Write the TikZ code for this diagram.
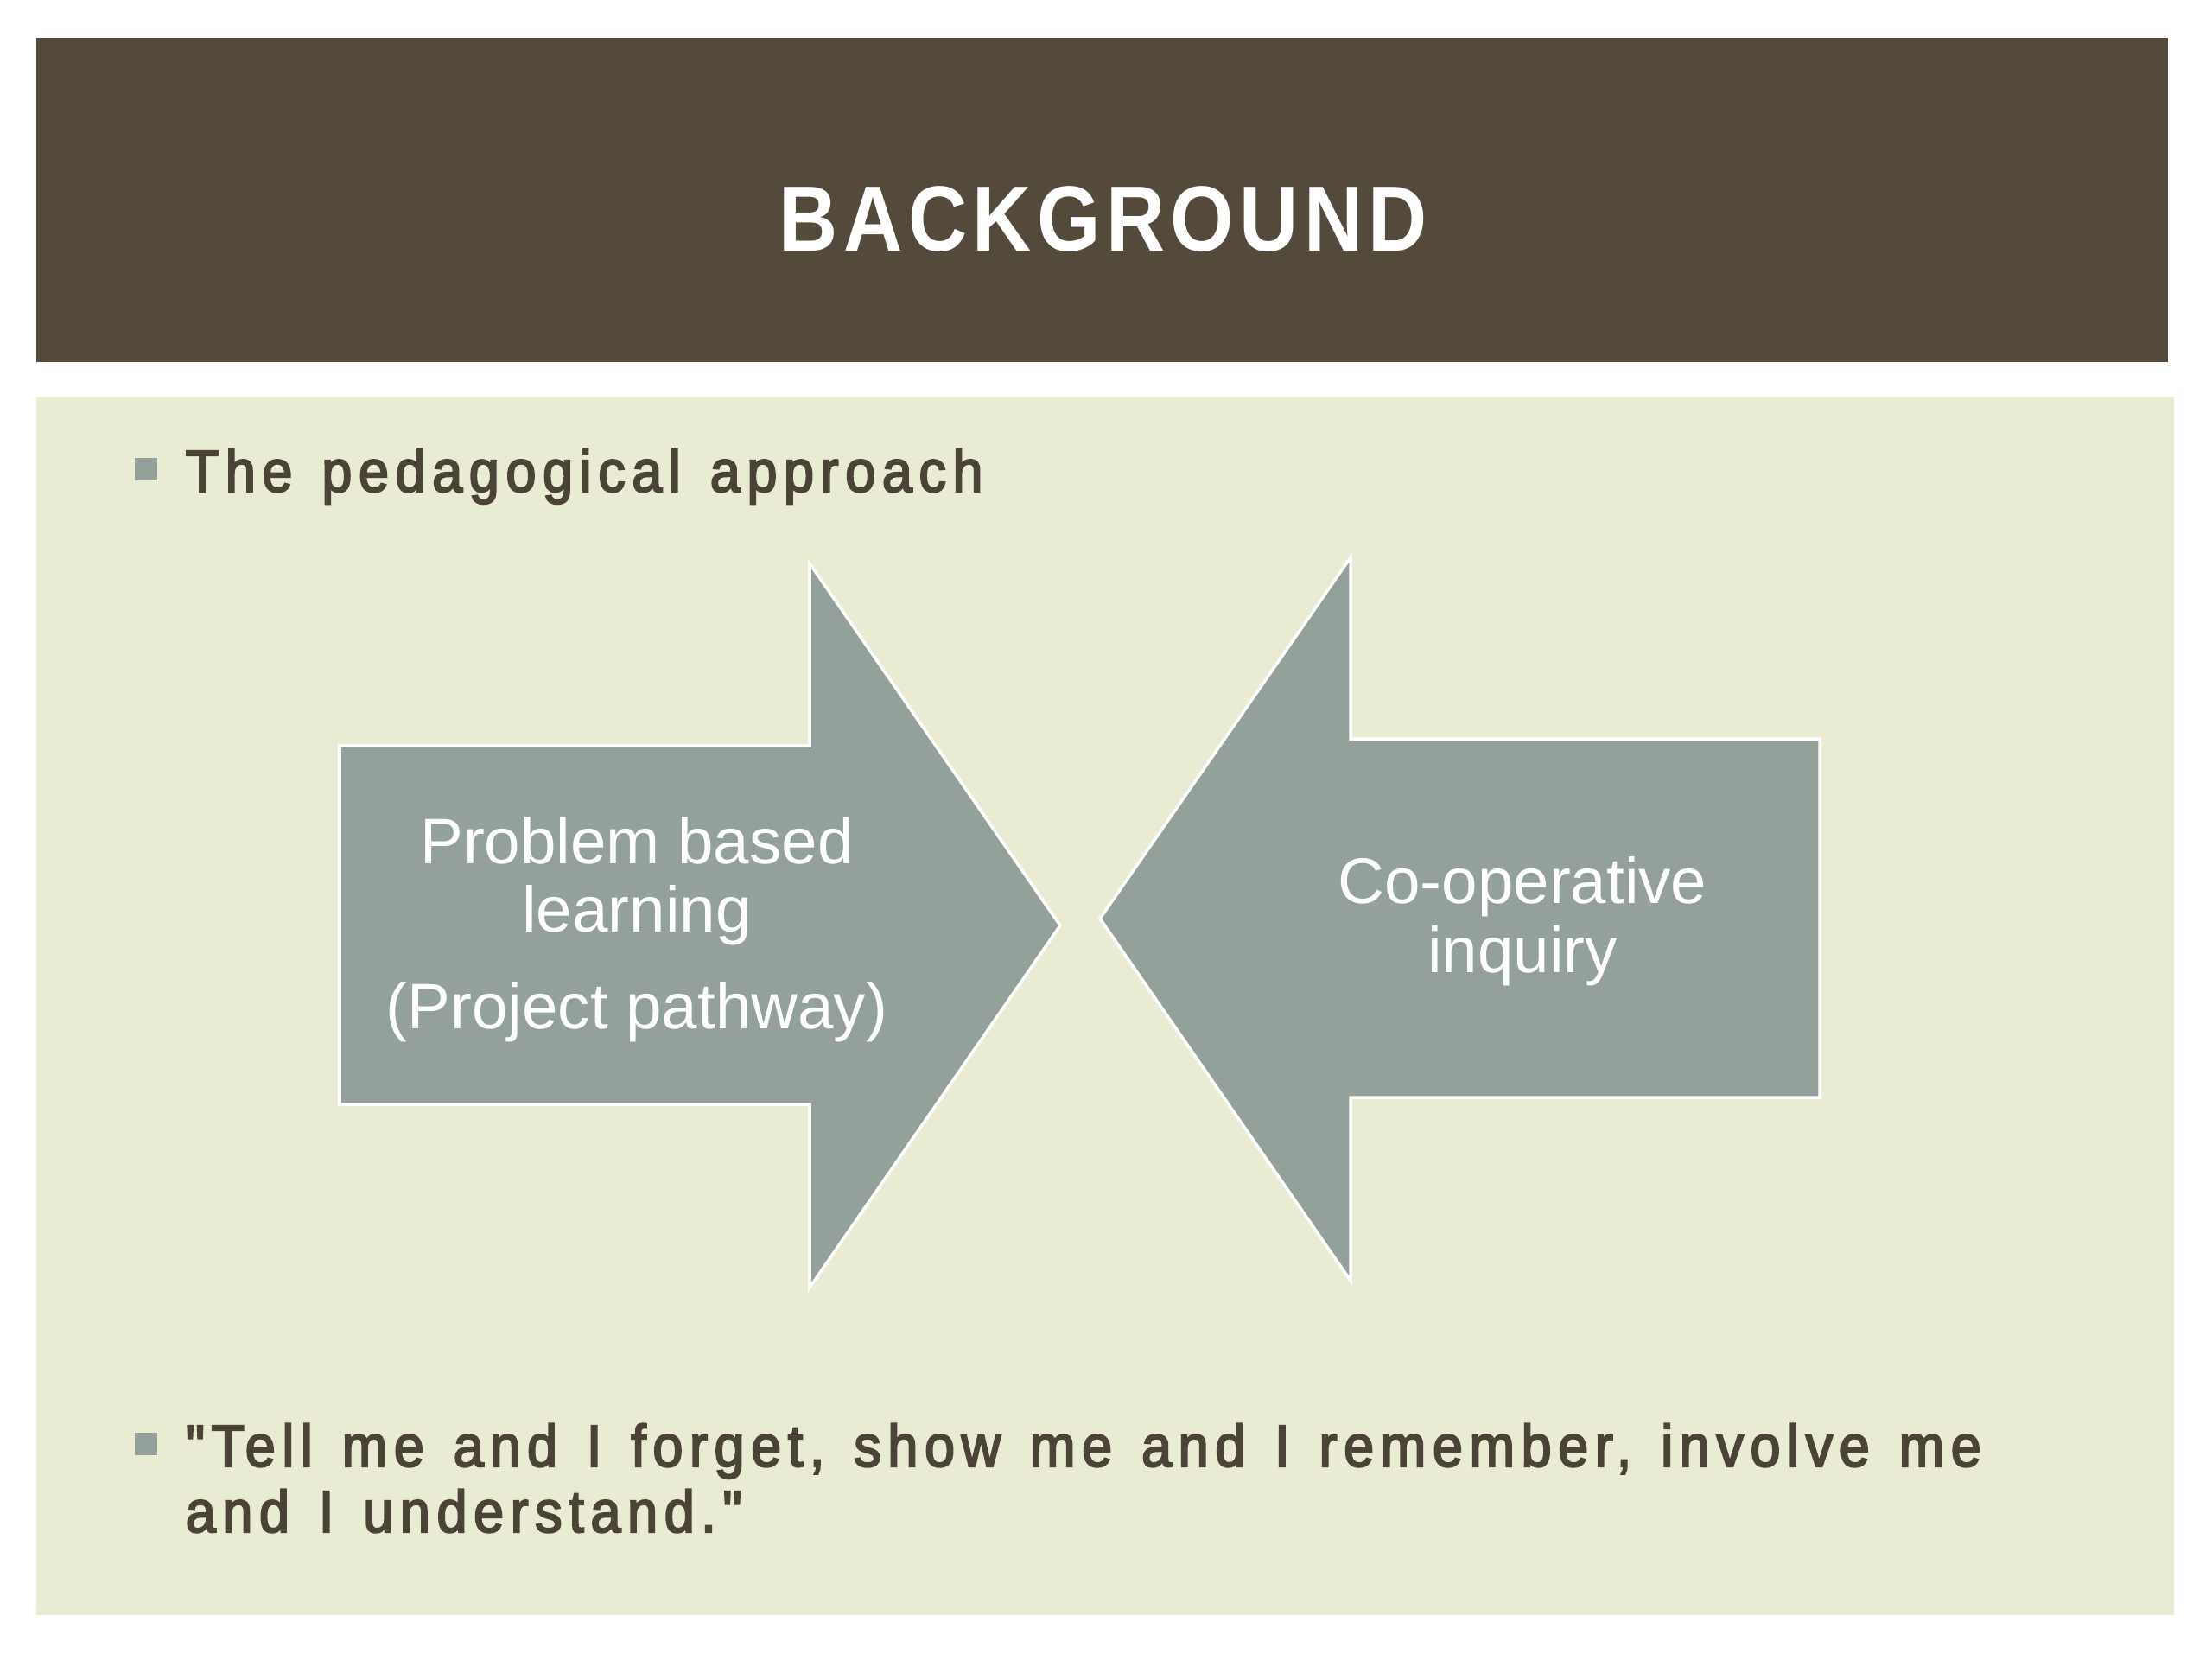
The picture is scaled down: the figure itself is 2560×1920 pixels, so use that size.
\documentclass[tikz,border=0pt]{standalone}
\usepackage{fontspec}
\setmainfont{Liberation Sans}
\newfontfamily\titlefont[FakeStretch=0.88,LetterSpace=6]{Liberation Sans Bold}
\newfontfamily\bodyfont[FakeStretch=0.92,LetterSpace=11,WordSpace=1.35,FakeBold=3]{Liberation Sans}
\newfontfamily\arrowfont{Liberation Sans}
\definecolor{hdr}{HTML}{544A3C}
\definecolor{pane}{HTML}{E9EBD3}
\definecolor{arrowfill}{HTML}{93A19A}
\definecolor{bodytext}{HTML}{4A4336}
\tikzset{
  bigarrow/.style={fill=arrowfill, draw=white, line width=1pt, line join=miter},
  arrowtext/.style={anchor=base, text=white, font=\arrowfont\fontsize{21.2}{25}\selectfont, inner sep=0pt},
  bullettext/.style={anchor=base west, text=bodytext, font=\bodyfont\fontsize{19.5}{22}\selectfont, inner sep=0pt},
  bulletsq/.style={fill=arrowfill, draw=none},
}
\begin{document}
\begin{tikzpicture}[x=0.01cm,y=-0.01cm]
\useasboundingbox (0,0) rectangle (2560,1920);
\fill[white] (0,0) rectangle (2560,1920);
% header
\fill[hdr] (42,44) rectangle (2509,419);
\node[anchor=base, text=white, inner sep=0pt, font=\titlefont\fontsize{30.5}{36}\selectfont] (title) at (1277,290) {BACKGROUND};
% content pane
\fill[pane] (42,459) rectangle (2516,1869);
% bullet 1
\fill[bulletsq] (156,530) rectangle (182,556);
\node[bullettext] (b1) at (214,569) {The pedagogical approach};
% left arrow
\draw[bigarrow] (393,863) -- (937,863) -- (937,652) -- (1227,1071) -- (937,1490) -- (937,1278) -- (393,1278) -- cycle;
\node[arrowtext] (l1) at (737,999) {Problem based};
\node[arrowtext] (l2) at (737,1078) {learning};
\node[arrowtext] (l3) at (737,1190) {(Project pathway)};
% right arrow
\draw[bigarrow] (2106,855) -- (1563,855) -- (1563,645) -- (1273,1063) -- (1563,1482) -- (1563,1270) -- (2106,1270) -- cycle;
\node[arrowtext] (r1) at (1762,1045) {Co-operative};
\node[arrowtext] (r2) at (1762,1125) {inquiry};
% bullet 2
\fill[bulletsq] (156,1658) rectangle (182,1684);
\node[bullettext] (b2) at (214,1697) {"Tell me and I forget, show me and I remember, involve me};
\node[bullettext] (b3) at (214,1773) {and I understand."};
\end{tikzpicture}
\end{document}
